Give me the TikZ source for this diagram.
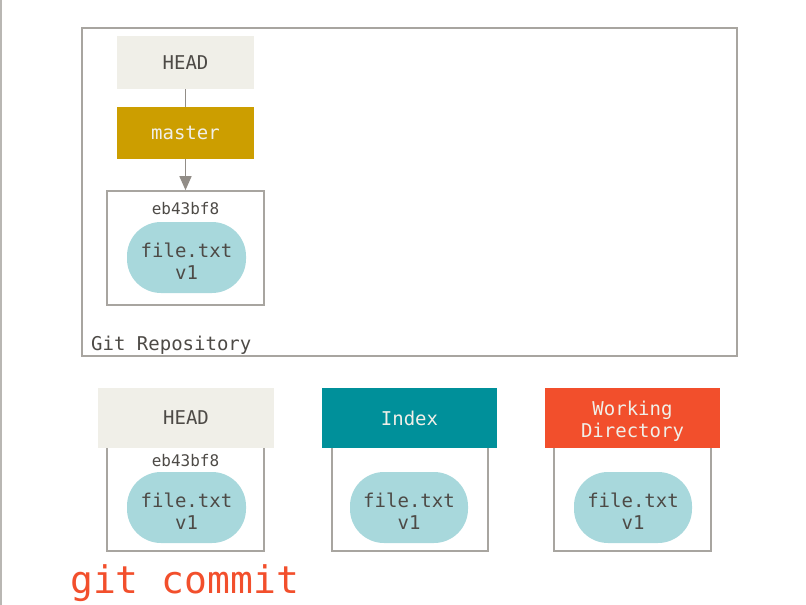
\documentclass[tikz,border=0pt]{standalone}
\usepackage{fontspec}
\setmonofont{DejaVu Sans Mono}
\usetikzlibrary{arrows.meta}
\definecolor{headfill}{HTML}{F0EFE8}
\definecolor{txtgray}{HTML}{4D4A46}
\definecolor{masterfill}{HTML}{CC9E00}
\definecolor{lighttxt}{HTML}{F0EFE8}
\definecolor{tealfill}{HTML}{00909A}
\definecolor{orangefill}{HTML}{F24F2C}
\definecolor{blobfill}{HTML}{A8D8DC}
\definecolor{boxline}{HTML}{A8A5A0}
\definecolor{arrowgray}{HTML}{928D87}
\tikzset{
  fnt/.style={font=\fontsize{19}{22}\selectfont\ttfamily},
  treebox/.style={draw=boxline, line width=1.6pt},
  blob/.style={fill=blobfill, rounded corners=34pt},
  blobtxt/.style={fnt, text=txtgray, align=center},
  hashtxt/.style={font=\fontsize{16}{18}\selectfont\ttfamily, text=txtgray},
}
\begin{document}
\begin{tikzpicture}[x=1pt,y=-1pt]
\useasboundingbox (0,0) rectangle (806,605);
% left edge line
\draw[draw=boxline!80, line width=2pt] (1,0) coordinate (lt) -- (1,605) coordinate (lb);
% repository
\draw[treebox] (82,28) rectangle (737,356);
\node[fnt, text=txtgray, anchor=base west, inner sep=0pt] (repo) at (91,350) {Git Repository};
% HEAD / master / commit
\node[fnt, fill=headfill, text=txtgray, minimum width=137pt, minimum height=53pt, inner sep=0pt] (head) at (185.5,62.5) {HEAD};
\node[fnt, fill=masterfill, text=lighttxt, minimum width=137pt, minimum height=52pt, inner sep=0pt] (master) at (185.5,133) {master};
\draw[arrowgray, line width=1.5pt] (head.south) -- (master.north);
\node[draw=boxline, line width=1.6pt, minimum width=157pt, minimum height=114pt, inner sep=0pt] (commit) at (185.5,248) {};
\draw[arrowgray, line width=1.5pt, -{Triangle[length=14pt,width=12pt]}] (master.south) -- (commit.north);
\node[hashtxt, anchor=base] (hash1) at (185.5,214) {eb43bf8};
\fill[blob] (127,222) rectangle (246,293);
\node[blobtxt] (blob1) at (186.5,261) {file.txt\\v1};
% bottom trees
\draw[treebox] (107,448) -- (107,551) -- (264,551) -- (264,448);
\draw[treebox] (332,448) -- (332,551) -- (488,551) -- (488,448);
\draw[treebox] (554,448) -- (554,551) -- (711,551) -- (711,448);
\node[fnt, fill=headfill, text=txtgray, minimum width=176pt, minimum height=60pt, inner sep=0pt] (head2) at (186,418) {HEAD};
\node[fnt, fill=tealfill, text=lighttxt, minimum width=175pt, minimum height=60pt, inner sep=0pt] (index) at (409.5,418) {Index};
\node[fnt, fill=orangefill, text=lighttxt, minimum width=175pt, minimum height=60pt, inner sep=0pt, align=center] (wd) at (632.5,418) {};
\node[fnt, text=lighttxt, align=center, inner sep=0pt] (wdtxt) at (632.5,421) {Working\\Directory};
\node[hashtxt, anchor=base] (hash2) at (185.5,466) {eb43bf8};
\fill[blob] (127,472) rectangle (246,543);
\node[blobtxt] (blob2) at (186.5,511) {file.txt\\v1};
\fill[blob] (350,472) rectangle (468,543);
\node[blobtxt] (blob3) at (409,511) {file.txt\\v1};
\fill[blob] (574,472) rectangle (692,543);
\node[blobtxt] (blob4) at (633,511) {file.txt\\v1};
% command
\node[font=\fontsize{38}{40}\selectfont\ttfamily, text=orangefill, anchor=base west, inner sep=0pt] (cmd) at (70,593) {git commit};
\end{tikzpicture}
\end{document}
